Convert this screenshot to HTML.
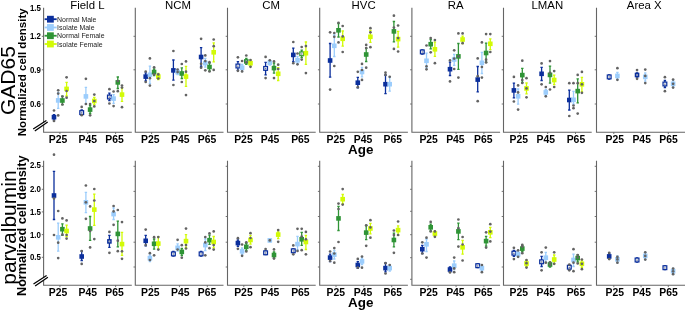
<!DOCTYPE html>
<html><head><meta charset="utf-8"><style>
html,body{margin:0;padding:0;background:#fff;}
body{width:685px;height:311px;overflow:hidden;}
svg{display:block;font-family:"Liberation Sans", sans-serif;will-change:transform;filter:blur(0.25px);}
</style></head><body>
<svg width="685" height="311" viewBox="0 0 685 311">
<rect width="685" height="311" fill="#fff"/>
<path d="M43.6 7.8V132.2H131.8" fill="none" stroke="#656565" stroke-width="1.1"/>
<path d="M41.8 36.3H43.6" stroke="#656565" stroke-width="0.9"/>
<path d="M41.8 69.8H43.6" stroke="#656565" stroke-width="0.9"/>
<path d="M41.8 104H43.6" stroke="#656565" stroke-width="0.9"/>
<path d="M59.9 132.2v1.8" stroke="#656565" stroke-width="0.9"/>
<path d="M87.75 132.2v1.8" stroke="#656565" stroke-width="0.9"/>
<path d="M115.6 132.2v1.8" stroke="#656565" stroke-width="0.9"/>
<path d="M135.3 7.8V132.2H223.5" fill="none" stroke="#656565" stroke-width="1.1"/>
<path d="M133.5 36.3H135.3" stroke="#656565" stroke-width="0.9"/>
<path d="M133.5 69.8H135.3" stroke="#656565" stroke-width="0.9"/>
<path d="M133.5 104H135.3" stroke="#656565" stroke-width="0.9"/>
<path d="M151.6 132.2v1.8" stroke="#656565" stroke-width="0.9"/>
<path d="M179.45 132.2v1.8" stroke="#656565" stroke-width="0.9"/>
<path d="M207.3 132.2v1.8" stroke="#656565" stroke-width="0.9"/>
<path d="M227.5 7.8V132.2H315.7" fill="none" stroke="#656565" stroke-width="1.1"/>
<path d="M225.7 36.3H227.5" stroke="#656565" stroke-width="0.9"/>
<path d="M225.7 69.8H227.5" stroke="#656565" stroke-width="0.9"/>
<path d="M225.7 104H227.5" stroke="#656565" stroke-width="0.9"/>
<path d="M243.8 132.2v1.8" stroke="#656565" stroke-width="0.9"/>
<path d="M271.65 132.2v1.8" stroke="#656565" stroke-width="0.9"/>
<path d="M299.5 132.2v1.8" stroke="#656565" stroke-width="0.9"/>
<path d="M319.7 7.8V132.2H407.9" fill="none" stroke="#656565" stroke-width="1.1"/>
<path d="M317.9 36.3H319.7" stroke="#656565" stroke-width="0.9"/>
<path d="M317.9 69.8H319.7" stroke="#656565" stroke-width="0.9"/>
<path d="M317.9 104H319.7" stroke="#656565" stroke-width="0.9"/>
<path d="M336 132.2v1.8" stroke="#656565" stroke-width="0.9"/>
<path d="M363.85 132.2v1.8" stroke="#656565" stroke-width="0.9"/>
<path d="M391.7 132.2v1.8" stroke="#656565" stroke-width="0.9"/>
<path d="M411.9 7.8V132.2H500.1" fill="none" stroke="#656565" stroke-width="1.1"/>
<path d="M410.1 36.3H411.9" stroke="#656565" stroke-width="0.9"/>
<path d="M410.1 69.8H411.9" stroke="#656565" stroke-width="0.9"/>
<path d="M410.1 104H411.9" stroke="#656565" stroke-width="0.9"/>
<path d="M428.2 132.2v1.8" stroke="#656565" stroke-width="0.9"/>
<path d="M456.05 132.2v1.8" stroke="#656565" stroke-width="0.9"/>
<path d="M483.9 132.2v1.8" stroke="#656565" stroke-width="0.9"/>
<path d="M503.5 7.8V132.2H591.7" fill="none" stroke="#656565" stroke-width="1.1"/>
<path d="M501.7 36.3H503.5" stroke="#656565" stroke-width="0.9"/>
<path d="M501.7 69.8H503.5" stroke="#656565" stroke-width="0.9"/>
<path d="M501.7 104H503.5" stroke="#656565" stroke-width="0.9"/>
<path d="M519.8 132.2v1.8" stroke="#656565" stroke-width="0.9"/>
<path d="M547.65 132.2v1.8" stroke="#656565" stroke-width="0.9"/>
<path d="M575.5 132.2v1.8" stroke="#656565" stroke-width="0.9"/>
<path d="M596.5 7.8V132.2H685" fill="none" stroke="#656565" stroke-width="1.1"/>
<path d="M594.7 36.3H596.5" stroke="#656565" stroke-width="0.9"/>
<path d="M594.7 69.8H596.5" stroke="#656565" stroke-width="0.9"/>
<path d="M594.7 104H596.5" stroke="#656565" stroke-width="0.9"/>
<path d="M613.8 132.2v1.8" stroke="#656565" stroke-width="0.9"/>
<path d="M641.05 132.2v1.8" stroke="#656565" stroke-width="0.9"/>
<path d="M668.3 132.2v1.8" stroke="#656565" stroke-width="0.9"/>
<path d="M43.6 160.8V285.3H131.8" fill="none" stroke="#656565" stroke-width="1.1"/>
<path d="M41.8 166.4H43.6" stroke="#656565" stroke-width="0.9"/>
<path d="M41.8 189.3H43.6" stroke="#656565" stroke-width="0.9"/>
<path d="M41.8 211.9H43.6" stroke="#656565" stroke-width="0.9"/>
<path d="M41.8 234.6H43.6" stroke="#656565" stroke-width="0.9"/>
<path d="M41.8 257.3H43.6" stroke="#656565" stroke-width="0.9"/>
<path d="M59.9 285.3v1.8" stroke="#656565" stroke-width="0.9"/>
<path d="M87.75 285.3v1.8" stroke="#656565" stroke-width="0.9"/>
<path d="M115.6 285.3v1.8" stroke="#656565" stroke-width="0.9"/>
<path d="M135.3 160.8V285.3H223.5" fill="none" stroke="#656565" stroke-width="1.1"/>
<path d="M133.5 166.3H135.3" stroke="#656565" stroke-width="0.9"/>
<path d="M133.5 191.4H135.3" stroke="#656565" stroke-width="0.9"/>
<path d="M133.5 216.5H135.3" stroke="#656565" stroke-width="0.9"/>
<path d="M133.5 242.2H135.3" stroke="#656565" stroke-width="0.9"/>
<path d="M133.5 267H135.3" stroke="#656565" stroke-width="0.9"/>
<path d="M151.6 285.3v1.8" stroke="#656565" stroke-width="0.9"/>
<path d="M179.45 285.3v1.8" stroke="#656565" stroke-width="0.9"/>
<path d="M207.3 285.3v1.8" stroke="#656565" stroke-width="0.9"/>
<path d="M227.5 160.8V285.3H315.7" fill="none" stroke="#656565" stroke-width="1.1"/>
<path d="M225.7 166.3H227.5" stroke="#656565" stroke-width="0.9"/>
<path d="M225.7 191.4H227.5" stroke="#656565" stroke-width="0.9"/>
<path d="M225.7 216.5H227.5" stroke="#656565" stroke-width="0.9"/>
<path d="M225.7 242.2H227.5" stroke="#656565" stroke-width="0.9"/>
<path d="M225.7 267H227.5" stroke="#656565" stroke-width="0.9"/>
<path d="M243.8 285.3v1.8" stroke="#656565" stroke-width="0.9"/>
<path d="M271.65 285.3v1.8" stroke="#656565" stroke-width="0.9"/>
<path d="M299.5 285.3v1.8" stroke="#656565" stroke-width="0.9"/>
<path d="M319.7 160.8V285.3H407.9" fill="none" stroke="#656565" stroke-width="1.1"/>
<path d="M317.9 166.3H319.7" stroke="#656565" stroke-width="0.9"/>
<path d="M317.9 191.4H319.7" stroke="#656565" stroke-width="0.9"/>
<path d="M317.9 216.5H319.7" stroke="#656565" stroke-width="0.9"/>
<path d="M317.9 242.2H319.7" stroke="#656565" stroke-width="0.9"/>
<path d="M317.9 267H319.7" stroke="#656565" stroke-width="0.9"/>
<path d="M336 285.3v1.8" stroke="#656565" stroke-width="0.9"/>
<path d="M363.85 285.3v1.8" stroke="#656565" stroke-width="0.9"/>
<path d="M391.7 285.3v1.8" stroke="#656565" stroke-width="0.9"/>
<path d="M411.9 160.8V285.3H500.1" fill="none" stroke="#656565" stroke-width="1.1"/>
<path d="M410.1 166.3H411.9" stroke="#656565" stroke-width="0.9"/>
<path d="M410.1 189.3H411.9" stroke="#656565" stroke-width="0.9"/>
<path d="M410.1 211.3H411.9" stroke="#656565" stroke-width="0.9"/>
<path d="M410.1 234.7H411.9" stroke="#656565" stroke-width="0.9"/>
<path d="M410.1 257.7H411.9" stroke="#656565" stroke-width="0.9"/>
<path d="M410.1 279.3H411.9" stroke="#656565" stroke-width="0.9"/>
<path d="M428.2 285.3v1.8" stroke="#656565" stroke-width="0.9"/>
<path d="M456.05 285.3v1.8" stroke="#656565" stroke-width="0.9"/>
<path d="M483.9 285.3v1.8" stroke="#656565" stroke-width="0.9"/>
<path d="M503.5 160.8V285.3H591.7" fill="none" stroke="#656565" stroke-width="1.1"/>
<path d="M501.7 166.3H503.5" stroke="#656565" stroke-width="0.9"/>
<path d="M501.7 191.4H503.5" stroke="#656565" stroke-width="0.9"/>
<path d="M501.7 216.5H503.5" stroke="#656565" stroke-width="0.9"/>
<path d="M501.7 242.2H503.5" stroke="#656565" stroke-width="0.9"/>
<path d="M501.7 267H503.5" stroke="#656565" stroke-width="0.9"/>
<path d="M519.8 285.3v1.8" stroke="#656565" stroke-width="0.9"/>
<path d="M547.65 285.3v1.8" stroke="#656565" stroke-width="0.9"/>
<path d="M575.5 285.3v1.8" stroke="#656565" stroke-width="0.9"/>
<path d="M596.5 160.8V285.3H685" fill="none" stroke="#656565" stroke-width="1.1"/>
<path d="M594.7 166.3H596.5" stroke="#656565" stroke-width="0.9"/>
<path d="M594.7 191.4H596.5" stroke="#656565" stroke-width="0.9"/>
<path d="M594.7 216.5H596.5" stroke="#656565" stroke-width="0.9"/>
<path d="M594.7 242.2H596.5" stroke="#656565" stroke-width="0.9"/>
<path d="M594.7 267H596.5" stroke="#656565" stroke-width="0.9"/>
<path d="M613.8 285.3v1.8" stroke="#656565" stroke-width="0.9"/>
<path d="M641.05 285.3v1.8" stroke="#656565" stroke-width="0.9"/>
<path d="M668.3 285.3v1.8" stroke="#656565" stroke-width="0.9"/>
<path d="M34 130.1L47.2 121.5" stroke="#fff" stroke-width="2.4"/>
<path d="M33.2 129.1L46.4 120.5" stroke="#000" stroke-width="1.25"/>
<path d="M34.8 131L47.7 122.1" stroke="#000" stroke-width="1.25"/>
<path d="M34.3 285.1L47.4 276.6" stroke="#fff" stroke-width="2.4"/>
<path d="M33.5 284.1L46.6 275.6" stroke="#000" stroke-width="1.25"/>
<path d="M35.1 286L47.9 277.2" stroke="#000" stroke-width="1.25"/>
<path d="M54 114.6V120.2M52.8 114.6h2.4M52.8 120.2h2.4" stroke="#0b2f9c" stroke-width="1.3" fill="none"/>
<rect x="51.7" y="114.9" width="4.6" height="4.6" fill="#0b2f9c"/>
<path d="M58.2 92.6V108.3M57 92.6h2.4M57 108.3h2.4" stroke="#9ccdfc" stroke-width="1.3" fill="none"/>
<rect x="55.9" y="98.1" width="4.6" height="4.6" fill="#9ccdfc"/>
<path d="M62.4 96.2V104.6M61.2 96.2h2.4M61.2 104.6h2.4" stroke="#2f9436" stroke-width="1.3" fill="none"/>
<rect x="60.1" y="98.2" width="4.6" height="4.6" fill="#2f9436"/>
<path d="M66.6 82.4V96M65.4 82.4h2.4M65.4 96h2.4" stroke="#d2fb06" stroke-width="1.3" fill="none"/>
<rect x="64.3" y="86.6" width="4.6" height="4.6" fill="#d2fb06"/>
<circle cx="54" cy="110.5" r="1.35" fill="#636363"/>
<circle cx="54" cy="121" r="1.35" fill="#636363"/>
<circle cx="58.2" cy="90.3" r="1.35" fill="#636363"/>
<circle cx="58.2" cy="93.6" r="1.35" fill="#636363"/>
<circle cx="58.2" cy="115.4" r="1.35" fill="#636363"/>
<circle cx="62.4" cy="96.5" r="1.35" fill="#636363"/>
<circle cx="62.4" cy="104.5" r="1.35" fill="#636363"/>
<circle cx="66.6" cy="77.3" r="1.35" fill="#636363"/>
<circle cx="66.6" cy="91" r="1.35" fill="#636363"/>
<circle cx="66.6" cy="97.7" r="1.35" fill="#636363"/>
<path d="M81.7 110V115M80.5 110h2.4M80.5 115h2.4" stroke="#0b2f9c" stroke-width="1.3" fill="none"/>
<rect x="79.2" y="110.1" width="5" height="5" fill="#0b2f9c"/>
<rect x="80.4" y="111.3" width="2.6" height="2.6" fill="#e6ebf7"/>
<circle cx="81.7" cy="112.8" r="0.75" fill="#7d8296"/>
<path d="M85.9 87.4V104M84.7 87.4h2.4M84.7 104h2.4" stroke="#9ccdfc" stroke-width="1.3" fill="none"/>
<rect x="83.6" y="94.1" width="4.6" height="4.6" fill="#9ccdfc"/>
<path d="M90.1 105.5V113.5M88.9 105.5h2.4M88.9 113.5h2.4" stroke="#2f9436" stroke-width="1.3" fill="none"/>
<rect x="87.8" y="107.3" width="4.6" height="4.6" fill="#2f9436"/>
<path d="M94.3 97.3V104.7M93.1 97.3h2.4M93.1 104.7h2.4" stroke="#d2fb06" stroke-width="1.3" fill="none"/>
<rect x="92" y="98.7" width="4.6" height="4.6" fill="#d2fb06"/>
<circle cx="81.7" cy="106.9" r="1.35" fill="#636363"/>
<circle cx="81.7" cy="115.2" r="1.35" fill="#636363"/>
<circle cx="85.9" cy="78.8" r="1.35" fill="#636363"/>
<circle cx="85.9" cy="104" r="1.35" fill="#636363"/>
<circle cx="90.1" cy="104" r="1.35" fill="#636363"/>
<circle cx="90.1" cy="115.3" r="1.35" fill="#636363"/>
<circle cx="94.3" cy="94.6" r="1.35" fill="#636363"/>
<circle cx="94.3" cy="106.4" r="1.35" fill="#636363"/>
<circle cx="94.3" cy="101" r="1.35" fill="#636363"/>
<path d="M109.4 93.2V100.7M108.2 93.2h2.4M108.2 100.7h2.4" stroke="#0b2f9c" stroke-width="1.3" fill="none"/>
<rect x="106.9" y="94.5" width="5" height="5" fill="#0b2f9c"/>
<rect x="108.1" y="95.7" width="2.6" height="2.6" fill="#e6ebf7"/>
<circle cx="109.4" cy="97.2" r="0.75" fill="#7d8296"/>
<path d="M113.6 94.6V103.4M112.4 94.6h2.4M112.4 103.4h2.4" stroke="#9ccdfc" stroke-width="1.3" fill="none"/>
<rect x="111.3" y="96.3" width="4.6" height="4.6" fill="#9ccdfc"/>
<path d="M117.8 77V88.5M116.6 77h2.4M116.6 88.5h2.4" stroke="#2f9436" stroke-width="1.3" fill="none"/>
<rect x="115.5" y="80.1" width="4.6" height="4.6" fill="#2f9436"/>
<path d="M122 87.8V101.4M120.8 87.8h2.4M120.8 101.4h2.4" stroke="#d2fb06" stroke-width="1.3" fill="none"/>
<rect x="119.7" y="92.3" width="4.6" height="4.6" fill="#d2fb06"/>
<circle cx="109.4" cy="89.2" r="1.35" fill="#636363"/>
<circle cx="109.4" cy="103.5" r="1.35" fill="#636363"/>
<circle cx="113.6" cy="91.5" r="1.35" fill="#636363"/>
<circle cx="113.6" cy="106.1" r="1.35" fill="#636363"/>
<circle cx="117.8" cy="81" r="1.35" fill="#636363"/>
<circle cx="117.8" cy="91.2" r="1.35" fill="#636363"/>
<circle cx="122" cy="85.5" r="1.35" fill="#636363"/>
<circle cx="122" cy="107.2" r="1.35" fill="#636363"/>
<circle cx="122" cy="87.6" r="1.35" fill="#636363"/>
<path d="M145.7 72.8V80.9M144.5 72.8h2.4M144.5 80.9h2.4" stroke="#0b2f9c" stroke-width="1.3" fill="none"/>
<rect x="143.4" y="74.3" width="4.6" height="4.6" fill="#0b2f9c"/>
<path d="M149.9 66.2V83.6M148.7 66.2h2.4M148.7 83.6h2.4" stroke="#9ccdfc" stroke-width="1.3" fill="none"/>
<rect x="147.6" y="72.5" width="4.6" height="4.6" fill="#9ccdfc"/>
<path d="M154.1 69V75.5M152.9 69h2.4M152.9 75.5h2.4" stroke="#2f9436" stroke-width="1.3" fill="none"/>
<rect x="151.8" y="69.8" width="4.6" height="4.6" fill="#2f9436"/>
<path d="M158.3 73.5V79.5M157.1 73.5h2.4M157.1 79.5h2.4" stroke="#d2fb06" stroke-width="1.3" fill="none"/>
<rect x="156" y="74.3" width="4.6" height="4.6" fill="#d2fb06"/>
<circle cx="145.7" cy="71.5" r="1.35" fill="#636363"/>
<circle cx="145.7" cy="82" r="1.35" fill="#636363"/>
<circle cx="149.9" cy="58.4" r="1.35" fill="#636363"/>
<circle cx="149.9" cy="78.2" r="1.35" fill="#636363"/>
<circle cx="149.9" cy="85.6" r="1.35" fill="#636363"/>
<circle cx="154.1" cy="67.3" r="1.35" fill="#636363"/>
<circle cx="154.1" cy="74.4" r="1.35" fill="#636363"/>
<circle cx="158.3" cy="74.4" r="1.35" fill="#636363"/>
<circle cx="158.3" cy="78.5" r="1.35" fill="#636363"/>
<path d="M173.4 60V80.2M172.2 60h2.4M172.2 80.2h2.4" stroke="#0b2f9c" stroke-width="1.3" fill="none"/>
<rect x="171.1" y="68.1" width="4.6" height="4.6" fill="#0b2f9c"/>
<path d="M177.6 69.5V74.5M176.4 69.5h2.4M176.4 74.5h2.4" stroke="#9ccdfc" stroke-width="1.3" fill="none"/>
<rect x="175.3" y="69.8" width="4.6" height="4.6" fill="#9ccdfc"/>
<path d="M181.8 67.8V78.5M180.6 67.8h2.4M180.6 78.5h2.4" stroke="#2f9436" stroke-width="1.3" fill="none"/>
<rect x="179.5" y="71.2" width="4.6" height="4.6" fill="#2f9436"/>
<path d="M186 66.4V86.3M184.8 66.4h2.4M184.8 86.3h2.4" stroke="#d2fb06" stroke-width="1.3" fill="none"/>
<rect x="183.7" y="74.3" width="4.6" height="4.6" fill="#d2fb06"/>
<circle cx="173.4" cy="51" r="1.35" fill="#636363"/>
<circle cx="173.4" cy="85" r="1.35" fill="#636363"/>
<circle cx="177.6" cy="69.5" r="1.35" fill="#636363"/>
<circle cx="177.6" cy="72.1" r="1.35" fill="#636363"/>
<circle cx="181.8" cy="64" r="1.35" fill="#636363"/>
<circle cx="181.8" cy="82" r="1.35" fill="#636363"/>
<circle cx="186" cy="61.4" r="1.35" fill="#636363"/>
<circle cx="186" cy="71.7" r="1.35" fill="#636363"/>
<circle cx="186" cy="95.1" r="1.35" fill="#636363"/>
<path d="M201.1 47.6V66.5M199.9 47.6h2.4M199.9 66.5h2.4" stroke="#0b2f9c" stroke-width="1.3" fill="none"/>
<rect x="198.8" y="54.7" width="4.6" height="4.6" fill="#0b2f9c"/>
<path d="M205.3 58.4V67.2M204.1 58.4h2.4M204.1 67.2h2.4" stroke="#9ccdfc" stroke-width="1.3" fill="none"/>
<rect x="203" y="60.8" width="4.6" height="4.6" fill="#9ccdfc"/>
<path d="M209.5 63V71M208.3 63h2.4M208.3 71h2.4" stroke="#2f9436" stroke-width="1.3" fill="none"/>
<rect x="207.2" y="64.7" width="4.6" height="4.6" fill="#2f9436"/>
<path d="M213.7 42.8V61.8M212.5 42.8h2.4M212.5 61.8h2.4" stroke="#d2fb06" stroke-width="1.3" fill="none"/>
<rect x="211.4" y="50" width="4.6" height="4.6" fill="#d2fb06"/>
<circle cx="201.1" cy="38.8" r="1.35" fill="#636363"/>
<circle cx="201.1" cy="63.8" r="1.35" fill="#636363"/>
<circle cx="201.1" cy="67.7" r="1.35" fill="#636363"/>
<circle cx="205.3" cy="55.4" r="1.35" fill="#636363"/>
<circle cx="205.3" cy="61.1" r="1.35" fill="#636363"/>
<circle cx="205.3" cy="70.3" r="1.35" fill="#636363"/>
<circle cx="209.5" cy="62.2" r="1.35" fill="#636363"/>
<circle cx="209.5" cy="71.5" r="1.35" fill="#636363"/>
<circle cx="213.7" cy="39.5" r="1.35" fill="#636363"/>
<circle cx="213.7" cy="46.2" r="1.35" fill="#636363"/>
<circle cx="213.7" cy="69.9" r="1.35" fill="#636363"/>
<path d="M237.9 61.6V70.4M236.7 61.6h2.4M236.7 70.4h2.4" stroke="#0b2f9c" stroke-width="1.3" fill="none"/>
<rect x="235.4" y="63.5" width="5" height="5" fill="#0b2f9c"/>
<rect x="236.6" y="64.7" width="2.6" height="2.6" fill="#e6ebf7"/>
<circle cx="237.9" cy="66.2" r="0.75" fill="#7d8296"/>
<path d="M242.1 64.5V70.9M240.9 64.5h2.4M240.9 70.9h2.4" stroke="#9ccdfc" stroke-width="1.3" fill="none"/>
<rect x="239.8" y="65.4" width="4.6" height="4.6" fill="#9ccdfc"/>
<path d="M246.3 58.5V64.3M245.1 58.5h2.4M245.1 64.3h2.4" stroke="#2f9436" stroke-width="1.3" fill="none"/>
<rect x="244" y="59.1" width="4.6" height="4.6" fill="#2f9436"/>
<circle cx="246.3" cy="61.4" r="1.05" fill="#a3aac0"/>
<path d="M250.5 60.2V66.2M249.3 60.2h2.4M249.3 66.2h2.4" stroke="#d2fb06" stroke-width="1.3" fill="none"/>
<rect x="248.2" y="60.9" width="4.6" height="4.6" fill="#d2fb06"/>
<circle cx="237.9" cy="57.3" r="1.35" fill="#636363"/>
<circle cx="237.9" cy="70.8" r="1.35" fill="#636363"/>
<circle cx="242.1" cy="61" r="1.35" fill="#636363"/>
<circle cx="242.1" cy="71.4" r="1.35" fill="#636363"/>
<circle cx="246.3" cy="55.5" r="1.35" fill="#636363"/>
<circle cx="246.3" cy="62.3" r="1.35" fill="#636363"/>
<circle cx="250.5" cy="60" r="1.35" fill="#636363"/>
<circle cx="250.5" cy="66.8" r="1.35" fill="#636363"/>
<path d="M265.6 62.3V74.9M264.4 62.3h2.4M264.4 74.9h2.4" stroke="#0b2f9c" stroke-width="1.3" fill="none"/>
<rect x="263.1" y="65.9" width="5" height="5" fill="#0b2f9c"/>
<rect x="264.3" y="67.1" width="2.6" height="2.6" fill="#e6ebf7"/>
<circle cx="265.6" cy="68.6" r="0.75" fill="#7d8296"/>
<path d="M269.8 60.5V65M268.6 60.5h2.4M268.6 65h2.4" stroke="#9ccdfc" stroke-width="1.3" fill="none"/>
<rect x="267.5" y="60.4" width="4.6" height="4.6" fill="#9ccdfc"/>
<path d="M274 63V73.1M272.8 63h2.4M272.8 73.1h2.4" stroke="#2f9436" stroke-width="1.3" fill="none"/>
<rect x="271.7" y="65.8" width="4.6" height="4.6" fill="#2f9436"/>
<path d="M278.2 67.7V80.5M277 67.7h2.4M277 80.5h2.4" stroke="#d2fb06" stroke-width="1.3" fill="none"/>
<rect x="275.9" y="71.5" width="4.6" height="4.6" fill="#d2fb06"/>
<circle cx="265.6" cy="56.9" r="1.35" fill="#636363"/>
<circle cx="265.6" cy="78.1" r="1.35" fill="#636363"/>
<circle cx="269.8" cy="60.3" r="1.35" fill="#636363"/>
<circle cx="274" cy="61.4" r="1.35" fill="#636363"/>
<circle cx="274" cy="78.1" r="1.35" fill="#636363"/>
<circle cx="278.2" cy="64.7" r="1.35" fill="#636363"/>
<circle cx="278.2" cy="69" r="1.35" fill="#636363"/>
<path d="M293.3 48.1V61.6M292.1 48.1h2.4M292.1 61.6h2.4" stroke="#0b2f9c" stroke-width="1.3" fill="none"/>
<rect x="291" y="52.6" width="4.6" height="4.6" fill="#0b2f9c"/>
<path d="M297.5 56.5V64M296.3 56.5h2.4M296.3 64h2.4" stroke="#9ccdfc" stroke-width="1.3" fill="none"/>
<rect x="295.2" y="58" width="4.6" height="4.6" fill="#9ccdfc"/>
<path d="M301.7 50.1V57.6M300.5 50.1h2.4M300.5 57.6h2.4" stroke="#2f9436" stroke-width="1.3" fill="none"/>
<rect x="299.2" y="51.3" width="5" height="5" fill="#2f9436"/>
<rect x="300.4" y="52.5" width="2.6" height="2.6" fill="#e6ebf7"/>
<circle cx="301.7" cy="54" r="0.75" fill="#7d8296"/>
<path d="M305.9 42V64.3M304.7 42h2.4M304.7 64.3h2.4" stroke="#d2fb06" stroke-width="1.3" fill="none"/>
<rect x="303.6" y="50.9" width="4.6" height="4.6" fill="#d2fb06"/>
<circle cx="293.3" cy="42" r="1.35" fill="#636363"/>
<circle cx="293.3" cy="63.2" r="1.35" fill="#636363"/>
<circle cx="297.5" cy="53.5" r="1.35" fill="#636363"/>
<circle cx="297.5" cy="64.3" r="1.35" fill="#636363"/>
<circle cx="301.7" cy="47" r="1.35" fill="#636363"/>
<circle cx="301.7" cy="59.6" r="1.35" fill="#636363"/>
<circle cx="305.9" cy="46.1" r="1.35" fill="#636363"/>
<circle cx="305.9" cy="73.1" r="1.35" fill="#636363"/>
<path d="M330.1 43.5V77.2M328.9 43.5h2.4M328.9 77.2h2.4" stroke="#0b2f9c" stroke-width="1.3" fill="none"/>
<rect x="327.8" y="58.2" width="4.6" height="4.6" fill="#0b2f9c"/>
<path d="M334.3 35V56.5M333.1 35h2.4M333.1 56.5h2.4" stroke="#9ccdfc" stroke-width="1.3" fill="none"/>
<rect x="332" y="43.5" width="4.6" height="4.6" fill="#9ccdfc"/>
<path d="M338.5 23.5V37M337.3 23.5h2.4M337.3 37h2.4" stroke="#2f9436" stroke-width="1.3" fill="none"/>
<rect x="336.2" y="28" width="4.6" height="4.6" fill="#2f9436"/>
<path d="M342.7 31V46.2M341.5 31h2.4M341.5 46.2h2.4" stroke="#d2fb06" stroke-width="1.3" fill="none"/>
<rect x="340.4" y="36.5" width="4.6" height="4.6" fill="#d2fb06"/>
<circle cx="330.1" cy="32.3" r="1.35" fill="#636363"/>
<circle cx="330.1" cy="89.6" r="1.35" fill="#636363"/>
<circle cx="334.3" cy="33" r="1.35" fill="#636363"/>
<circle cx="334.3" cy="36.8" r="1.35" fill="#636363"/>
<circle cx="334.3" cy="66" r="1.35" fill="#636363"/>
<circle cx="338.5" cy="22.8" r="1.35" fill="#636363"/>
<circle cx="338.5" cy="42.4" r="1.35" fill="#636363"/>
<circle cx="342.7" cy="26" r="1.35" fill="#636363"/>
<circle cx="342.7" cy="36.4" r="1.35" fill="#636363"/>
<circle cx="342.7" cy="52" r="1.35" fill="#636363"/>
<path d="M357.8 77.4V87.8M356.6 77.4h2.4M356.6 87.8h2.4" stroke="#0b2f9c" stroke-width="1.3" fill="none"/>
<rect x="355.5" y="80.4" width="4.6" height="4.6" fill="#0b2f9c"/>
<path d="M362 67.3V76.8M360.8 67.3h2.4M360.8 76.8h2.4" stroke="#9ccdfc" stroke-width="1.3" fill="none"/>
<rect x="359.7" y="69.7" width="4.6" height="4.6" fill="#9ccdfc"/>
<path d="M366.2 48.4V61.5M365 48.4h2.4M365 61.5h2.4" stroke="#2f9436" stroke-width="1.3" fill="none"/>
<rect x="363.9" y="52.2" width="4.6" height="4.6" fill="#2f9436"/>
<path d="M370.4 30.3V42.4M369.2 30.3h2.4M369.2 42.4h2.4" stroke="#d2fb06" stroke-width="1.3" fill="none"/>
<rect x="368.1" y="34.5" width="4.6" height="4.6" fill="#d2fb06"/>
<circle cx="357.8" cy="71.8" r="1.35" fill="#636363"/>
<circle cx="357.8" cy="87.2" r="1.35" fill="#636363"/>
<circle cx="362" cy="63.9" r="1.35" fill="#636363"/>
<circle cx="362" cy="70" r="1.35" fill="#636363"/>
<circle cx="362" cy="79.9" r="1.35" fill="#636363"/>
<circle cx="366.2" cy="44.9" r="1.35" fill="#636363"/>
<circle cx="366.2" cy="48.1" r="1.35" fill="#636363"/>
<circle cx="366.2" cy="67.7" r="1.35" fill="#636363"/>
<circle cx="370.4" cy="28.2" r="1.35" fill="#636363"/>
<circle cx="370.4" cy="32.3" r="1.35" fill="#636363"/>
<circle cx="370.4" cy="47.2" r="1.35" fill="#636363"/>
<path d="M385.5 75V93.6M384.3 75h2.4M384.3 93.6h2.4" stroke="#0b2f9c" stroke-width="1.3" fill="none"/>
<rect x="383.2" y="81.9" width="4.6" height="4.6" fill="#0b2f9c"/>
<path d="M389.7 77V91.2M388.5 77h2.4M388.5 91.2h2.4" stroke="#9ccdfc" stroke-width="1.3" fill="none"/>
<rect x="387.4" y="81.9" width="4.6" height="4.6" fill="#9ccdfc"/>
<path d="M393.9 21.5V41.8M392.7 21.5h2.4M392.7 41.8h2.4" stroke="#2f9436" stroke-width="1.3" fill="none"/>
<rect x="391.6" y="29.1" width="4.6" height="4.6" fill="#2f9436"/>
<path d="M398.1 31.4V47.2M396.9 31.4h2.4M396.9 47.2h2.4" stroke="#d2fb06" stroke-width="1.3" fill="none"/>
<rect x="395.8" y="36.8" width="4.6" height="4.6" fill="#d2fb06"/>
<circle cx="385.5" cy="72.7" r="1.35" fill="#636363"/>
<circle cx="385.5" cy="75" r="1.35" fill="#636363"/>
<circle cx="389.7" cy="76.8" r="1.35" fill="#636363"/>
<circle cx="393.9" cy="15.7" r="1.35" fill="#636363"/>
<circle cx="393.9" cy="27.6" r="1.35" fill="#636363"/>
<circle cx="393.9" cy="48.9" r="1.35" fill="#636363"/>
<circle cx="398.1" cy="25.5" r="1.35" fill="#636363"/>
<circle cx="398.1" cy="38.1" r="1.35" fill="#636363"/>
<circle cx="398.1" cy="51.5" r="1.35" fill="#636363"/>
<path d="M422.3 50V54M421.1 50h2.4M421.1 54h2.4" stroke="#0b2f9c" stroke-width="1.3" fill="none"/>
<rect x="419.8" y="49.4" width="5" height="5" fill="#0b2f9c"/>
<rect x="421" y="50.6" width="2.6" height="2.6" fill="#e6ebf7"/>
<circle cx="422.3" cy="52.1" r="0.75" fill="#7d8296"/>
<path d="M426.5 53.2V67.8M425.3 53.2h2.4M425.3 67.8h2.4" stroke="#9ccdfc" stroke-width="1.3" fill="none"/>
<rect x="424.2" y="58.5" width="4.6" height="4.6" fill="#9ccdfc"/>
<path d="M430.7 39.5V48.9M429.5 39.5h2.4M429.5 48.9h2.4" stroke="#2f9436" stroke-width="1.3" fill="none"/>
<rect x="428.4" y="41.9" width="4.6" height="4.6" fill="#2f9436"/>
<path d="M434.9 42.2V56.4M433.7 42.2h2.4M433.7 56.4h2.4" stroke="#d2fb06" stroke-width="1.3" fill="none"/>
<rect x="432.6" y="47" width="4.6" height="4.6" fill="#d2fb06"/>
<circle cx="426.5" cy="45.5" r="1.35" fill="#636363"/>
<circle cx="426.5" cy="66.3" r="1.35" fill="#636363"/>
<circle cx="426.5" cy="69.3" r="1.35" fill="#636363"/>
<circle cx="430.7" cy="38.1" r="1.35" fill="#636363"/>
<circle cx="430.7" cy="52.3" r="1.35" fill="#636363"/>
<circle cx="434.9" cy="40.1" r="1.35" fill="#636363"/>
<circle cx="434.9" cy="63.2" r="1.35" fill="#636363"/>
<path d="M450 62.2V75.5M448.8 62.2h2.4M448.8 75.5h2.4" stroke="#0b2f9c" stroke-width="1.3" fill="none"/>
<rect x="447.7" y="66.9" width="4.6" height="4.6" fill="#0b2f9c"/>
<path d="M454.2 54.3V65.4M453 54.3h2.4M453 65.4h2.4" stroke="#9ccdfc" stroke-width="1.3" fill="none"/>
<rect x="451.9" y="57.2" width="4.6" height="4.6" fill="#9ccdfc"/>
<path d="M458.4 43.5V69.4M457.2 43.5h2.4M457.2 69.4h2.4" stroke="#2f9436" stroke-width="1.3" fill="none"/>
<rect x="456.1" y="54.1" width="4.6" height="4.6" fill="#2f9436"/>
<path d="M462.6 36.1V43.5M461.4 36.1h2.4M461.4 43.5h2.4" stroke="#d2fb06" stroke-width="1.3" fill="none"/>
<rect x="460.3" y="37.2" width="4.6" height="4.6" fill="#d2fb06"/>
<circle cx="450" cy="60.4" r="1.35" fill="#636363"/>
<circle cx="450" cy="81.4" r="1.35" fill="#636363"/>
<circle cx="454.2" cy="50.3" r="1.35" fill="#636363"/>
<circle cx="454.2" cy="58.6" r="1.35" fill="#636363"/>
<circle cx="454.2" cy="69" r="1.35" fill="#636363"/>
<circle cx="458.4" cy="33.4" r="1.35" fill="#636363"/>
<circle cx="458.4" cy="56.4" r="1.35" fill="#636363"/>
<circle cx="458.4" cy="77.6" r="1.35" fill="#636363"/>
<circle cx="462.6" cy="33.4" r="1.35" fill="#636363"/>
<circle cx="462.6" cy="43.2" r="1.35" fill="#636363"/>
<path d="M477.7 66.5V91.8M476.5 66.5h2.4M476.5 91.8h2.4" stroke="#0b2f9c" stroke-width="1.3" fill="none"/>
<rect x="475.4" y="77.3" width="4.6" height="4.6" fill="#0b2f9c"/>
<path d="M481.9 52.3V73.5M480.7 52.3h2.4M480.7 73.5h2.4" stroke="#9ccdfc" stroke-width="1.3" fill="none"/>
<rect x="479.6" y="60.5" width="4.6" height="4.6" fill="#9ccdfc"/>
<path d="M486.1 43.2V62.4M484.9 43.2h2.4M484.9 62.4h2.4" stroke="#2f9436" stroke-width="1.3" fill="none"/>
<rect x="483.8" y="50.7" width="4.6" height="4.6" fill="#2f9436"/>
<path d="M490.3 38.8V49.6M489.1 38.8h2.4M489.1 49.6h2.4" stroke="#d2fb06" stroke-width="1.3" fill="none"/>
<rect x="488" y="41.5" width="4.6" height="4.6" fill="#d2fb06"/>
<circle cx="477.7" cy="58.4" r="1.35" fill="#636363"/>
<circle cx="477.7" cy="76.2" r="1.35" fill="#636363"/>
<circle cx="477.7" cy="101.2" r="1.35" fill="#636363"/>
<circle cx="481.9" cy="42.4" r="1.35" fill="#636363"/>
<circle cx="481.9" cy="67" r="1.35" fill="#636363"/>
<circle cx="481.9" cy="77.6" r="1.35" fill="#636363"/>
<circle cx="486.1" cy="34.1" r="1.35" fill="#636363"/>
<circle cx="486.1" cy="59.7" r="1.35" fill="#636363"/>
<circle cx="486.1" cy="62.4" r="1.35" fill="#636363"/>
<circle cx="490.3" cy="34.1" r="1.35" fill="#636363"/>
<circle cx="490.3" cy="52" r="1.35" fill="#636363"/>
<path d="M513.9 83.2V97.8M512.7 83.2h2.4M512.7 97.8h2.4" stroke="#0b2f9c" stroke-width="1.3" fill="none"/>
<rect x="511.6" y="88.1" width="4.6" height="4.6" fill="#0b2f9c"/>
<path d="M518.1 89V104.2M516.9 89h2.4M516.9 104.2h2.4" stroke="#9ccdfc" stroke-width="1.3" fill="none"/>
<rect x="515.8" y="94" width="4.6" height="4.6" fill="#9ccdfc"/>
<path d="M522.3 68.4V82.3M521.1 68.4h2.4M521.1 82.3h2.4" stroke="#2f9436" stroke-width="1.3" fill="none"/>
<rect x="520" y="72.8" width="4.6" height="4.6" fill="#2f9436"/>
<path d="M526.5 83V93.8M525.3 83h2.4M525.3 93.8h2.4" stroke="#d2fb06" stroke-width="1.3" fill="none"/>
<rect x="524.2" y="86.1" width="4.6" height="4.6" fill="#d2fb06"/>
<circle cx="513.9" cy="76.9" r="1.35" fill="#636363"/>
<circle cx="513.9" cy="101.5" r="1.35" fill="#636363"/>
<circle cx="518.1" cy="85.4" r="1.35" fill="#636363"/>
<circle cx="518.1" cy="92.4" r="1.35" fill="#636363"/>
<circle cx="518.1" cy="109.6" r="1.35" fill="#636363"/>
<circle cx="522.3" cy="60.7" r="1.35" fill="#636363"/>
<circle cx="522.3" cy="80" r="1.35" fill="#636363"/>
<circle cx="522.3" cy="83" r="1.35" fill="#636363"/>
<circle cx="526.5" cy="78.2" r="1.35" fill="#636363"/>
<circle cx="526.5" cy="88.4" r="1.35" fill="#636363"/>
<circle cx="526.5" cy="97.3" r="1.35" fill="#636363"/>
<path d="M541.6 67.4V80.5M540.4 67.4h2.4M540.4 80.5h2.4" stroke="#0b2f9c" stroke-width="1.3" fill="none"/>
<rect x="539.3" y="71.5" width="4.6" height="4.6" fill="#0b2f9c"/>
<path d="M545.8 89.5V95.5M544.6 89.5h2.4M544.6 95.5h2.4" stroke="#9ccdfc" stroke-width="1.3" fill="none"/>
<rect x="543.5" y="90.1" width="4.6" height="4.6" fill="#9ccdfc"/>
<path d="M550 66.1V83.2M548.8 66.1h2.4M548.8 83.2h2.4" stroke="#2f9436" stroke-width="1.3" fill="none"/>
<rect x="547.7" y="72.6" width="4.6" height="4.6" fill="#2f9436"/>
<path d="M554.2 75.1V84.6M553 75.1h2.4M553 84.6h2.4" stroke="#d2fb06" stroke-width="1.3" fill="none"/>
<rect x="551.9" y="77.7" width="4.6" height="4.6" fill="#d2fb06"/>
<circle cx="541.6" cy="63.4" r="1.35" fill="#636363"/>
<circle cx="541.6" cy="84.3" r="1.35" fill="#636363"/>
<circle cx="545.8" cy="87" r="1.35" fill="#636363"/>
<circle cx="545.8" cy="96.3" r="1.35" fill="#636363"/>
<circle cx="550" cy="61.1" r="1.35" fill="#636363"/>
<circle cx="550" cy="72.8" r="1.35" fill="#636363"/>
<circle cx="550" cy="89.5" r="1.35" fill="#636363"/>
<circle cx="554.2" cy="71.1" r="1.35" fill="#636363"/>
<circle cx="554.2" cy="87" r="1.35" fill="#636363"/>
<path d="M569.3 90.2V110M568.1 90.2h2.4M568.1 110h2.4" stroke="#0b2f9c" stroke-width="1.3" fill="none"/>
<rect x="567" y="97.7" width="4.6" height="4.6" fill="#0b2f9c"/>
<path d="M573.5 91.4V104.2M572.3 91.4h2.4M572.3 104.2h2.4" stroke="#9ccdfc" stroke-width="1.3" fill="none"/>
<rect x="571.2" y="97.5" width="4.6" height="4.6" fill="#9ccdfc"/>
<path d="M577.7 78.9V102.8M576.5 78.9h2.4M576.5 102.8h2.4" stroke="#2f9436" stroke-width="1.3" fill="none"/>
<rect x="575.4" y="88.8" width="4.6" height="4.6" fill="#2f9436"/>
<path d="M581.9 77.3V91.8M580.7 77.3h2.4M580.7 91.8h2.4" stroke="#d2fb06" stroke-width="1.3" fill="none"/>
<rect x="579.6" y="82" width="4.6" height="4.6" fill="#d2fb06"/>
<circle cx="569.3" cy="83.2" r="1.35" fill="#636363"/>
<circle cx="569.3" cy="116" r="1.35" fill="#636363"/>
<circle cx="573.5" cy="83.2" r="1.35" fill="#636363"/>
<circle cx="573.5" cy="105.5" r="1.35" fill="#636363"/>
<circle cx="573.5" cy="108.2" r="1.35" fill="#636363"/>
<circle cx="577.7" cy="74.9" r="1.35" fill="#636363"/>
<circle cx="577.7" cy="83.2" r="1.35" fill="#636363"/>
<circle cx="577.7" cy="113.6" r="1.35" fill="#636363"/>
<circle cx="581.9" cy="71.9" r="1.35" fill="#636363"/>
<circle cx="581.9" cy="84.3" r="1.35" fill="#636363"/>
<circle cx="581.9" cy="92.8" r="1.35" fill="#636363"/>
<path d="M609.2 75V79M608 75h2.4M608 79h2.4" stroke="#0b2f9c" stroke-width="1.3" fill="none"/>
<rect x="606.7" y="74.4" width="5" height="5" fill="#0b2f9c"/>
<rect x="607.9" y="75.6" width="2.6" height="2.6" fill="#e6ebf7"/>
<circle cx="609.2" cy="77.1" r="0.75" fill="#7d8296"/>
<path d="M617.4 72.4V79.5M616.2 72.4h2.4M616.2 79.5h2.4" stroke="#9ccdfc" stroke-width="1.3" fill="none"/>
<rect x="615.1" y="73.6" width="4.6" height="4.6" fill="#9ccdfc"/>
<circle cx="617.4" cy="68.2" r="1.35" fill="#636363"/>
<circle cx="617.4" cy="79.8" r="1.35" fill="#636363"/>
<path d="M637.05 73V77M635.85 73h2.4M635.85 77h2.4" stroke="#0b2f9c" stroke-width="1.3" fill="none"/>
<rect x="634.75" y="72.7" width="4.6" height="4.6" fill="#0b2f9c"/>
<circle cx="637.05" cy="75" r="1.05" fill="#a3aac0"/>
<path d="M645.25 73V81.2M644.05 73h2.4M644.05 81.2h2.4" stroke="#9ccdfc" stroke-width="1.3" fill="none"/>
<rect x="642.95" y="74.6" width="4.6" height="4.6" fill="#9ccdfc"/>
<circle cx="637.05" cy="70.1" r="1.35" fill="#636363"/>
<circle cx="637.05" cy="78.8" r="1.35" fill="#636363"/>
<circle cx="645.25" cy="69.6" r="1.35" fill="#636363"/>
<circle cx="645.25" cy="75.9" r="1.35" fill="#636363"/>
<circle cx="645.25" cy="83.1" r="1.35" fill="#636363"/>
<path d="M664.9 80.5V87.5M663.7 80.5h2.4M663.7 87.5h2.4" stroke="#0b2f9c" stroke-width="1.3" fill="none"/>
<rect x="662.4" y="81.5" width="5" height="5" fill="#0b2f9c"/>
<rect x="663.6" y="82.7" width="2.6" height="2.6" fill="#e6ebf7"/>
<circle cx="664.9" cy="84.2" r="0.75" fill="#7d8296"/>
<path d="M673.1 80V87M671.9 80h2.4M671.9 87h2.4" stroke="#9ccdfc" stroke-width="1.3" fill="none"/>
<rect x="670.8" y="81.5" width="4.6" height="4.6" fill="#9ccdfc"/>
<circle cx="664.9" cy="77.2" r="1.35" fill="#636363"/>
<circle cx="664.9" cy="91.2" r="1.35" fill="#636363"/>
<circle cx="673.1" cy="79.6" r="1.35" fill="#636363"/>
<circle cx="673.1" cy="83.8" r="1.35" fill="#636363"/>
<circle cx="673.1" cy="87.6" r="1.35" fill="#636363"/>
<path d="M54 171.4V219.5M52.8 171.4h2.4M52.8 219.5h2.4" stroke="#0b2f9c" stroke-width="1.3" fill="none"/>
<rect x="51.7" y="193.2" width="4.6" height="4.6" fill="#0b2f9c"/>
<path d="M58.2 223.1V251.1M57 223.1h2.4M57 251.1h2.4" stroke="#9ccdfc" stroke-width="1.3" fill="none"/>
<rect x="55.9" y="235" width="4.6" height="4.6" fill="#9ccdfc"/>
<path d="M62.4 223.8V235.3M61.2 223.8h2.4M61.2 235.3h2.4" stroke="#2f9436" stroke-width="1.3" fill="none"/>
<rect x="60.1" y="226.9" width="4.6" height="4.6" fill="#2f9436"/>
<path d="M66.6 225.1V236.6M65.4 225.1h2.4M65.4 236.6h2.4" stroke="#d2fb06" stroke-width="1.3" fill="none"/>
<rect x="64.3" y="228.7" width="4.6" height="4.6" fill="#d2fb06"/>
<circle cx="54" cy="154.7" r="1.35" fill="#636363"/>
<circle cx="54" cy="198.5" r="1.35" fill="#636363"/>
<circle cx="54" cy="235" r="1.35" fill="#636363"/>
<circle cx="58.2" cy="211" r="1.35" fill="#636363"/>
<circle cx="58.2" cy="242.7" r="1.35" fill="#636363"/>
<circle cx="58.2" cy="258.1" r="1.35" fill="#636363"/>
<circle cx="62.4" cy="218.4" r="1.35" fill="#636363"/>
<circle cx="62.4" cy="234.6" r="1.35" fill="#636363"/>
<circle cx="66.6" cy="220.4" r="1.35" fill="#636363"/>
<circle cx="66.6" cy="235" r="1.35" fill="#636363"/>
<circle cx="66.6" cy="238.6" r="1.35" fill="#636363"/>
<path d="M81.7 251.1V260.5M80.5 251.1h2.4M80.5 260.5h2.4" stroke="#0b2f9c" stroke-width="1.3" fill="none"/>
<rect x="79.4" y="254.2" width="4.6" height="4.6" fill="#0b2f9c"/>
<path d="M85.9 192.4V212.7M84.7 192.4h2.4M84.7 212.7h2.4" stroke="#9ccdfc" stroke-width="1.3" fill="none"/>
<rect x="83.6" y="200" width="4.6" height="4.6" fill="#9ccdfc"/>
<path d="M90.1 216.5V240.4M88.9 216.5h2.4M88.9 240.4h2.4" stroke="#2f9436" stroke-width="1.3" fill="none"/>
<rect x="87.8" y="226.2" width="4.6" height="4.6" fill="#2f9436"/>
<path d="M94.3 194.2V225.3M93.1 194.2h2.4M93.1 225.3h2.4" stroke="#d2fb06" stroke-width="1.3" fill="none"/>
<rect x="92" y="207.3" width="4.6" height="4.6" fill="#d2fb06"/>
<circle cx="81.7" cy="251.1" r="1.35" fill="#636363"/>
<circle cx="81.7" cy="263.9" r="1.35" fill="#636363"/>
<circle cx="85.9" cy="185.5" r="1.35" fill="#636363"/>
<circle cx="85.9" cy="202.3" r="1.35" fill="#636363"/>
<circle cx="85.9" cy="218.8" r="1.35" fill="#636363"/>
<circle cx="90.1" cy="206.4" r="1.35" fill="#636363"/>
<circle cx="90.1" cy="231" r="1.35" fill="#636363"/>
<circle cx="90.1" cy="247.4" r="1.35" fill="#636363"/>
<circle cx="94.3" cy="189" r="1.35" fill="#636363"/>
<circle cx="94.3" cy="200.5" r="1.35" fill="#636363"/>
<circle cx="94.3" cy="239.1" r="1.35" fill="#636363"/>
<path d="M109.4 235.3V247.4M108.2 235.3h2.4M108.2 247.4h2.4" stroke="#0b2f9c" stroke-width="1.3" fill="none"/>
<rect x="107.1" y="239.1" width="4.6" height="4.6" fill="#0b2f9c"/>
<circle cx="109.4" cy="241.4" r="1.05" fill="#a3aac0"/>
<path d="M113.6 208V219.5M112.4 208h2.4M112.4 219.5h2.4" stroke="#9ccdfc" stroke-width="1.3" fill="none"/>
<rect x="111.3" y="211.8" width="4.6" height="4.6" fill="#9ccdfc"/>
<path d="M117.8 221.1V246.8M116.6 221.1h2.4M116.6 246.8h2.4" stroke="#2f9436" stroke-width="1.3" fill="none"/>
<rect x="115.5" y="231.6" width="4.6" height="4.6" fill="#2f9436"/>
<path d="M122 232.3V255.3M120.8 232.3h2.4M120.8 255.3h2.4" stroke="#d2fb06" stroke-width="1.3" fill="none"/>
<rect x="119.7" y="241.8" width="4.6" height="4.6" fill="#d2fb06"/>
<circle cx="109.4" cy="231.9" r="1.35" fill="#636363"/>
<circle cx="109.4" cy="252.8" r="1.35" fill="#636363"/>
<circle cx="113.6" cy="206" r="1.35" fill="#636363"/>
<circle cx="113.6" cy="211.4" r="1.35" fill="#636363"/>
<circle cx="113.6" cy="224.8" r="1.35" fill="#636363"/>
<circle cx="117.8" cy="210" r="1.35" fill="#636363"/>
<circle cx="117.8" cy="240.7" r="1.35" fill="#636363"/>
<circle cx="117.8" cy="251.2" r="1.35" fill="#636363"/>
<circle cx="122" cy="222.1" r="1.35" fill="#636363"/>
<circle cx="122" cy="251.3" r="1.35" fill="#636363"/>
<circle cx="122" cy="258.8" r="1.35" fill="#636363"/>
<path d="M145.7 235.4V245.8M144.5 235.4h2.4M144.5 245.8h2.4" stroke="#0b2f9c" stroke-width="1.3" fill="none"/>
<rect x="143.4" y="238.5" width="4.6" height="4.6" fill="#0b2f9c"/>
<path d="M149.9 255V261.5M148.7 255h2.4M148.7 261.5h2.4" stroke="#9ccdfc" stroke-width="1.3" fill="none"/>
<rect x="147.6" y="255.9" width="4.6" height="4.6" fill="#9ccdfc"/>
<path d="M154.1 239V249.2M152.9 239h2.4M152.9 249.2h2.4" stroke="#2f9436" stroke-width="1.3" fill="none"/>
<rect x="151.8" y="241.5" width="4.6" height="4.6" fill="#2f9436"/>
<path d="M158.3 236.8V249.2M157.1 236.8h2.4M157.1 249.2h2.4" stroke="#d2fb06" stroke-width="1.3" fill="none"/>
<rect x="156" y="241.3" width="4.6" height="4.6" fill="#d2fb06"/>
<circle cx="145.7" cy="229.6" r="1.35" fill="#636363"/>
<circle cx="145.7" cy="245.1" r="1.35" fill="#636363"/>
<circle cx="149.9" cy="253.2" r="1.35" fill="#636363"/>
<circle cx="149.9" cy="260" r="1.35" fill="#636363"/>
<circle cx="154.1" cy="237.2" r="1.35" fill="#636363"/>
<circle cx="154.1" cy="255.3" r="1.35" fill="#636363"/>
<circle cx="158.3" cy="237.1" r="1.35" fill="#636363"/>
<circle cx="158.3" cy="249.6" r="1.35" fill="#636363"/>
<path d="M173.4 251.5V256M172.2 251.5h2.4M172.2 256h2.4" stroke="#0b2f9c" stroke-width="1.3" fill="none"/>
<rect x="170.9" y="251.4" width="5" height="5" fill="#0b2f9c"/>
<rect x="172.1" y="252.6" width="2.6" height="2.6" fill="#e6ebf7"/>
<circle cx="173.4" cy="254.1" r="0.75" fill="#7d8296"/>
<path d="M177.6 243.8V251.2M176.4 243.8h2.4M176.4 251.2h2.4" stroke="#9ccdfc" stroke-width="1.3" fill="none"/>
<rect x="175.3" y="245.5" width="4.6" height="4.6" fill="#9ccdfc"/>
<path d="M181.8 248.5V255.3M180.6 248.5h2.4M180.6 255.3h2.4" stroke="#2f9436" stroke-width="1.3" fill="none"/>
<rect x="179.5" y="249.6" width="4.6" height="4.6" fill="#2f9436"/>
<path d="M186 234.7V247.8M184.8 234.7h2.4M184.8 247.8h2.4" stroke="#d2fb06" stroke-width="1.3" fill="none"/>
<rect x="183.7" y="238.8" width="4.6" height="4.6" fill="#d2fb06"/>
<circle cx="177.6" cy="239.8" r="1.35" fill="#636363"/>
<circle cx="177.6" cy="249.6" r="1.35" fill="#636363"/>
<circle cx="181.8" cy="245.2" r="1.35" fill="#636363"/>
<circle cx="181.8" cy="257.7" r="1.35" fill="#636363"/>
<circle cx="186" cy="228.6" r="1.35" fill="#636363"/>
<circle cx="186" cy="245.1" r="1.35" fill="#636363"/>
<circle cx="186" cy="248.5" r="1.35" fill="#636363"/>
<path d="M201.1 251.5V256M199.9 251.5h2.4M199.9 256h2.4" stroke="#0b2f9c" stroke-width="1.3" fill="none"/>
<rect x="198.6" y="251.4" width="5" height="5" fill="#0b2f9c"/>
<rect x="199.8" y="252.6" width="2.6" height="2.6" fill="#e6ebf7"/>
<circle cx="201.1" cy="254.1" r="0.75" fill="#7d8296"/>
<path d="M205.3 239V250.5M204.1 239h2.4M204.1 250.5h2.4" stroke="#9ccdfc" stroke-width="1.3" fill="none"/>
<rect x="203" y="242.8" width="4.6" height="4.6" fill="#9ccdfc"/>
<path d="M209.5 235.2V244.4M208.3 235.2h2.4M208.3 244.4h2.4" stroke="#2f9436" stroke-width="1.3" fill="none"/>
<rect x="207.2" y="237.9" width="4.6" height="4.6" fill="#2f9436"/>
<path d="M213.7 236.5V247.8M212.5 236.5h2.4M212.5 247.8h2.4" stroke="#d2fb06" stroke-width="1.3" fill="none"/>
<rect x="211.4" y="239.7" width="4.6" height="4.6" fill="#d2fb06"/>
<circle cx="205.3" cy="237.1" r="1.35" fill="#636363"/>
<circle cx="205.3" cy="242.4" r="1.35" fill="#636363"/>
<circle cx="205.3" cy="255.3" r="1.35" fill="#636363"/>
<circle cx="209.5" cy="233.4" r="1.35" fill="#636363"/>
<circle cx="209.5" cy="248.2" r="1.35" fill="#636363"/>
<circle cx="213.7" cy="231.4" r="1.35" fill="#636363"/>
<circle cx="213.7" cy="245.1" r="1.35" fill="#636363"/>
<circle cx="213.7" cy="249.6" r="1.35" fill="#636363"/>
<path d="M237.9 240V246.4M236.7 240h2.4M236.7 246.4h2.4" stroke="#0b2f9c" stroke-width="1.3" fill="none"/>
<rect x="235.6" y="240.8" width="4.6" height="4.6" fill="#0b2f9c"/>
<path d="M242.1 248V254.5M240.9 248h2.4M240.9 254.5h2.4" stroke="#9ccdfc" stroke-width="1.3" fill="none"/>
<rect x="239.8" y="249" width="4.6" height="4.6" fill="#9ccdfc"/>
<path d="M246.3 243.4V250.4M245.1 243.4h2.4M245.1 250.4h2.4" stroke="#2f9436" stroke-width="1.3" fill="none"/>
<rect x="244" y="244.5" width="4.6" height="4.6" fill="#2f9436"/>
<path d="M250.5 235.3V244.1M249.3 235.3h2.4M249.3 244.1h2.4" stroke="#d2fb06" stroke-width="1.3" fill="none"/>
<rect x="248.2" y="237.7" width="4.6" height="4.6" fill="#d2fb06"/>
<circle cx="237.9" cy="238.2" r="1.35" fill="#636363"/>
<circle cx="237.9" cy="248.8" r="1.35" fill="#636363"/>
<circle cx="242.1" cy="244.5" r="1.35" fill="#636363"/>
<circle cx="242.1" cy="255.8" r="1.35" fill="#636363"/>
<circle cx="246.3" cy="242.3" r="1.35" fill="#636363"/>
<circle cx="246.3" cy="251.5" r="1.35" fill="#636363"/>
<circle cx="250.5" cy="233.2" r="1.35" fill="#636363"/>
<circle cx="250.5" cy="238" r="1.35" fill="#636363"/>
<circle cx="250.5" cy="247.2" r="1.35" fill="#636363"/>
<path d="M265.6 251V254.6M264.4 251h2.4M264.4 254.6h2.4" stroke="#0b2f9c" stroke-width="1.3" fill="none"/>
<rect x="263.1" y="250.3" width="5" height="5" fill="#0b2f9c"/>
<rect x="264.3" y="251.5" width="2.6" height="2.6" fill="#e6ebf7"/>
<circle cx="265.6" cy="253" r="0.75" fill="#7d8296"/>
<path d="M269.8 239V241.8M268.6 239h2.4M268.6 241.8h2.4" stroke="#9ccdfc" stroke-width="1.3" fill="none"/>
<rect x="267.5" y="238.1" width="4.6" height="4.6" fill="#9ccdfc"/>
<path d="M274 252V258M272.8 252h2.4M272.8 258h2.4" stroke="#2f9436" stroke-width="1.3" fill="none"/>
<rect x="271.7" y="252.7" width="4.6" height="4.6" fill="#2f9436"/>
<path d="M278.2 231.9V238.6M277 231.9h2.4M277 238.6h2.4" stroke="#d2fb06" stroke-width="1.3" fill="none"/>
<rect x="275.9" y="232.3" width="4.6" height="4.6" fill="#d2fb06"/>
<circle cx="265.6" cy="249" r="1.35" fill="#636363"/>
<circle cx="269.8" cy="240.4" r="1.35" fill="#636363"/>
<circle cx="274" cy="249.4" r="1.35" fill="#636363"/>
<circle cx="274" cy="258.6" r="1.35" fill="#636363"/>
<circle cx="278.2" cy="230.1" r="1.35" fill="#636363"/>
<circle cx="278.2" cy="241.8" r="1.35" fill="#636363"/>
<path d="M293.3 249V252.6M292.1 249h2.4M292.1 252.6h2.4" stroke="#0b2f9c" stroke-width="1.3" fill="none"/>
<rect x="290.8" y="248.3" width="5" height="5" fill="#0b2f9c"/>
<rect x="292" y="249.5" width="2.6" height="2.6" fill="#e6ebf7"/>
<circle cx="293.3" cy="251" r="0.75" fill="#7d8296"/>
<path d="M297.5 236.4V250.1M296.3 236.4h2.4M296.3 250.1h2.4" stroke="#9ccdfc" stroke-width="1.3" fill="none"/>
<rect x="295.2" y="241.8" width="4.6" height="4.6" fill="#9ccdfc"/>
<path d="M301.7 232.3V245.4M300.5 232.3h2.4M300.5 245.4h2.4" stroke="#2f9436" stroke-width="1.3" fill="none"/>
<rect x="299.4" y="237" width="4.6" height="4.6" fill="#2f9436"/>
<path d="M305.9 235.3V249.5M304.7 235.3h2.4M304.7 249.5h2.4" stroke="#d2fb06" stroke-width="1.3" fill="none"/>
<rect x="303.6" y="239.7" width="4.6" height="4.6" fill="#d2fb06"/>
<circle cx="293.3" cy="245.4" r="1.35" fill="#636363"/>
<circle cx="293.3" cy="254.3" r="1.35" fill="#636363"/>
<circle cx="297.5" cy="228.8" r="1.35" fill="#636363"/>
<circle cx="297.5" cy="250.9" r="1.35" fill="#636363"/>
<circle cx="301.7" cy="228.8" r="1.35" fill="#636363"/>
<circle cx="301.7" cy="236.6" r="1.35" fill="#636363"/>
<circle cx="301.7" cy="250.2" r="1.35" fill="#636363"/>
<circle cx="305.9" cy="231.9" r="1.35" fill="#636363"/>
<circle cx="305.9" cy="239.3" r="1.35" fill="#636363"/>
<circle cx="305.9" cy="254.3" r="1.35" fill="#636363"/>
<path d="M330.1 254.2V261.6M328.9 254.2h2.4M328.9 261.6h2.4" stroke="#0b2f9c" stroke-width="1.3" fill="none"/>
<rect x="327.8" y="255.3" width="4.6" height="4.6" fill="#0b2f9c"/>
<path d="M334.3 250.5V259M333.1 250.5h2.4M333.1 259h2.4" stroke="#9ccdfc" stroke-width="1.3" fill="none"/>
<rect x="332" y="252.3" width="4.6" height="4.6" fill="#9ccdfc"/>
<path d="M338.5 206.4V230.5M337.3 206.4h2.4M337.3 230.5h2.4" stroke="#2f9436" stroke-width="1.3" fill="none"/>
<rect x="336.2" y="216.1" width="4.6" height="4.6" fill="#2f9436"/>
<path d="M342.7 194.5V204M341.5 194.5h2.4M341.5 204h2.4" stroke="#d2fb06" stroke-width="1.3" fill="none"/>
<rect x="340.4" y="196.9" width="4.6" height="4.6" fill="#d2fb06"/>
<circle cx="330.1" cy="251.5" r="1.35" fill="#636363"/>
<circle cx="330.1" cy="261" r="1.35" fill="#636363"/>
<circle cx="334.3" cy="248.1" r="1.35" fill="#636363"/>
<circle cx="334.3" cy="253.5" r="1.35" fill="#636363"/>
<circle cx="334.3" cy="262.7" r="1.35" fill="#636363"/>
<circle cx="338.5" cy="203.6" r="1.35" fill="#636363"/>
<circle cx="338.5" cy="209" r="1.35" fill="#636363"/>
<circle cx="338.5" cy="242" r="1.35" fill="#636363"/>
<circle cx="342.7" cy="189.1" r="1.35" fill="#636363"/>
<circle cx="342.7" cy="204.6" r="1.35" fill="#636363"/>
<path d="M357.8 261.6V268.4M356.6 261.6h2.4M356.6 268.4h2.4" stroke="#0b2f9c" stroke-width="1.3" fill="none"/>
<rect x="355.5" y="262.7" width="4.6" height="4.6" fill="#0b2f9c"/>
<path d="M362 258V264.5M360.8 258h2.4M360.8 264.5h2.4" stroke="#9ccdfc" stroke-width="1.3" fill="none"/>
<rect x="359.7" y="259.1" width="4.6" height="4.6" fill="#9ccdfc"/>
<path d="M366.2 225.5V239.6M365 225.5h2.4M365 239.6h2.4" stroke="#2f9436" stroke-width="1.3" fill="none"/>
<rect x="363.9" y="230.3" width="4.6" height="4.6" fill="#2f9436"/>
<path d="M370.4 223.4V233.9M369.2 223.4h2.4M369.2 233.9h2.4" stroke="#d2fb06" stroke-width="1.3" fill="none"/>
<rect x="368.1" y="226.2" width="4.6" height="4.6" fill="#d2fb06"/>
<circle cx="357.8" cy="258.9" r="1.35" fill="#636363"/>
<circle cx="357.8" cy="267.7" r="1.35" fill="#636363"/>
<circle cx="362" cy="256.6" r="1.35" fill="#636363"/>
<circle cx="362" cy="267.7" r="1.35" fill="#636363"/>
<circle cx="366.2" cy="225.3" r="1.35" fill="#636363"/>
<circle cx="366.2" cy="245.8" r="1.35" fill="#636363"/>
<circle cx="370.4" cy="220.2" r="1.35" fill="#636363"/>
<circle cx="370.4" cy="227.4" r="1.35" fill="#636363"/>
<circle cx="370.4" cy="237.7" r="1.35" fill="#636363"/>
<path d="M385.5 263V271.8M384.3 263h2.4M384.3 271.8h2.4" stroke="#0b2f9c" stroke-width="1.3" fill="none"/>
<rect x="383.2" y="265.8" width="4.6" height="4.6" fill="#0b2f9c"/>
<path d="M389.7 265V271M388.5 265h2.4M388.5 271h2.4" stroke="#9ccdfc" stroke-width="1.3" fill="none"/>
<rect x="387.4" y="265.8" width="4.6" height="4.6" fill="#9ccdfc"/>
<path d="M393.9 233.2V246.8M392.7 233.2h2.4M392.7 246.8h2.4" stroke="#2f9436" stroke-width="1.3" fill="none"/>
<rect x="391.6" y="237.7" width="4.6" height="4.6" fill="#2f9436"/>
<path d="M398.1 225.8V235.3M396.9 225.8h2.4M396.9 235.3h2.4" stroke="#d2fb06" stroke-width="1.3" fill="none"/>
<rect x="395.8" y="227.8" width="4.6" height="4.6" fill="#d2fb06"/>
<circle cx="385.5" cy="263.2" r="1.35" fill="#636363"/>
<circle cx="385.5" cy="273.5" r="1.35" fill="#636363"/>
<circle cx="389.7" cy="265" r="1.35" fill="#636363"/>
<circle cx="393.9" cy="230.5" r="1.35" fill="#636363"/>
<circle cx="393.9" cy="235" r="1.35" fill="#636363"/>
<circle cx="393.9" cy="252.8" r="1.35" fill="#636363"/>
<circle cx="398.1" cy="221.5" r="1.35" fill="#636363"/>
<circle cx="398.1" cy="235" r="1.35" fill="#636363"/>
<path d="M422.3 245.4V253.5M421.1 245.4h2.4M421.1 253.5h2.4" stroke="#0b2f9c" stroke-width="1.3" fill="none"/>
<rect x="420" y="246.9" width="4.6" height="4.6" fill="#0b2f9c"/>
<path d="M426.5 239V251.5M425.3 239h2.4M425.3 251.5h2.4" stroke="#9ccdfc" stroke-width="1.3" fill="none"/>
<rect x="424.2" y="242" width="4.6" height="4.6" fill="#9ccdfc"/>
<path d="M430.7 224.2V231M429.5 224.2h2.4M429.5 231h2.4" stroke="#2f9436" stroke-width="1.3" fill="none"/>
<rect x="428.4" y="225" width="4.6" height="4.6" fill="#2f9436"/>
<path d="M434.9 231V236.3M433.7 231h2.4M433.7 236.3h2.4" stroke="#d2fb06" stroke-width="1.3" fill="none"/>
<rect x="432.6" y="231.3" width="4.6" height="4.6" fill="#d2fb06"/>
<circle cx="422.3" cy="242.3" r="1.35" fill="#636363"/>
<circle cx="422.3" cy="253.5" r="1.35" fill="#636363"/>
<circle cx="426.5" cy="237.7" r="1.35" fill="#636363"/>
<circle cx="426.5" cy="257.6" r="1.35" fill="#636363"/>
<circle cx="430.7" cy="221.9" r="1.35" fill="#636363"/>
<circle cx="430.7" cy="231.4" r="1.35" fill="#636363"/>
<circle cx="434.9" cy="231.4" r="1.35" fill="#636363"/>
<circle cx="434.9" cy="236.8" r="1.35" fill="#636363"/>
<path d="M450 267V272M448.8 267h2.4M448.8 272h2.4" stroke="#0b2f9c" stroke-width="1.3" fill="none"/>
<rect x="447.7" y="267.2" width="4.6" height="4.6" fill="#0b2f9c"/>
<path d="M454.2 261V269.7M453 261h2.4M453 269.7h2.4" stroke="#9ccdfc" stroke-width="1.3" fill="none"/>
<rect x="451.9" y="263.4" width="4.6" height="4.6" fill="#9ccdfc"/>
<path d="M458.4 223.2V239.7M457.2 223.2h2.4M457.2 239.7h2.4" stroke="#2f9436" stroke-width="1.3" fill="none"/>
<rect x="456.1" y="229.1" width="4.6" height="4.6" fill="#2f9436"/>
<path d="M462.6 240.4V254.2M461.4 240.4h2.4M461.4 254.2h2.4" stroke="#d2fb06" stroke-width="1.3" fill="none"/>
<rect x="460.3" y="245" width="4.6" height="4.6" fill="#d2fb06"/>
<circle cx="450" cy="272.4" r="1.35" fill="#636363"/>
<circle cx="454.2" cy="257.6" r="1.35" fill="#636363"/>
<circle cx="454.2" cy="268.4" r="1.35" fill="#636363"/>
<circle cx="454.2" cy="272.2" r="1.35" fill="#636363"/>
<circle cx="458.4" cy="219.5" r="1.35" fill="#636363"/>
<circle cx="458.4" cy="228.2" r="1.35" fill="#636363"/>
<circle cx="458.4" cy="246.6" r="1.35" fill="#636363"/>
<circle cx="462.6" cy="237" r="1.35" fill="#636363"/>
<circle cx="462.6" cy="244.5" r="1.35" fill="#636363"/>
<circle cx="462.6" cy="260.5" r="1.35" fill="#636363"/>
<path d="M477.7 264V267.5M476.5 264h2.4M476.5 267.5h2.4" stroke="#0b2f9c" stroke-width="1.3" fill="none"/>
<rect x="475.2" y="263.2" width="5" height="5" fill="#0b2f9c"/>
<rect x="476.4" y="264.4" width="2.6" height="2.6" fill="#e6ebf7"/>
<circle cx="477.7" cy="265.9" r="0.75" fill="#7d8296"/>
<path d="M481.9 265.5V271M480.7 265.5h2.4M480.7 271h2.4" stroke="#9ccdfc" stroke-width="1.3" fill="none"/>
<rect x="479.6" y="265.8" width="4.6" height="4.6" fill="#9ccdfc"/>
<path d="M486.1 236.4V246.2M484.9 236.4h2.4M484.9 246.2h2.4" stroke="#2f9436" stroke-width="1.3" fill="none"/>
<rect x="483.8" y="238.8" width="4.6" height="4.6" fill="#2f9436"/>
<path d="M490.3 227.3V237.7M489.1 227.3h2.4M489.1 237.7h2.4" stroke="#d2fb06" stroke-width="1.3" fill="none"/>
<rect x="488" y="230" width="4.6" height="4.6" fill="#d2fb06"/>
<circle cx="481.9" cy="265" r="1.35" fill="#636363"/>
<circle cx="481.9" cy="272.2" r="1.35" fill="#636363"/>
<circle cx="486.1" cy="232.3" r="1.35" fill="#636363"/>
<circle cx="486.1" cy="247.6" r="1.35" fill="#636363"/>
<circle cx="490.3" cy="224.2" r="1.35" fill="#636363"/>
<circle cx="490.3" cy="231.6" r="1.35" fill="#636363"/>
<circle cx="490.3" cy="241.4" r="1.35" fill="#636363"/>
<path d="M513.9 250.3V256.4M512.7 250.3h2.4M512.7 256.4h2.4" stroke="#0b2f9c" stroke-width="1.3" fill="none"/>
<rect x="511.4" y="250.7" width="5" height="5" fill="#0b2f9c"/>
<rect x="512.6" y="251.9" width="2.6" height="2.6" fill="#e6ebf7"/>
<circle cx="513.9" cy="253.4" r="0.75" fill="#7d8296"/>
<path d="M518.1 251.5V257M516.9 251.5h2.4M516.9 257h2.4" stroke="#9ccdfc" stroke-width="1.3" fill="none"/>
<rect x="515.8" y="252" width="4.6" height="4.6" fill="#9ccdfc"/>
<path d="M522.3 245.5V251.5M521.1 245.5h2.4M521.1 251.5h2.4" stroke="#2f9436" stroke-width="1.3" fill="none"/>
<rect x="520" y="246.3" width="4.6" height="4.6" fill="#2f9436"/>
<path d="M526.5 260.5V266.5M525.3 260.5h2.4M525.3 266.5h2.4" stroke="#d2fb06" stroke-width="1.3" fill="none"/>
<rect x="524.2" y="261.2" width="4.6" height="4.6" fill="#d2fb06"/>
<circle cx="513.9" cy="247.8" r="1.35" fill="#636363"/>
<circle cx="513.9" cy="259.1" r="1.35" fill="#636363"/>
<circle cx="518.1" cy="250.3" r="1.35" fill="#636363"/>
<circle cx="518.1" cy="256.8" r="1.35" fill="#636363"/>
<circle cx="522.3" cy="244.9" r="1.35" fill="#636363"/>
<circle cx="522.3" cy="246.6" r="1.35" fill="#636363"/>
<circle cx="522.3" cy="253.2" r="1.35" fill="#636363"/>
<circle cx="526.5" cy="260" r="1.35" fill="#636363"/>
<circle cx="526.5" cy="263.2" r="1.35" fill="#636363"/>
<circle cx="526.5" cy="267.6" r="1.35" fill="#636363"/>
<path d="M541.6 256.4V266.5M540.4 256.4h2.4M540.4 266.5h2.4" stroke="#0b2f9c" stroke-width="1.3" fill="none"/>
<rect x="539.1" y="259.3" width="5" height="5" fill="#0b2f9c"/>
<rect x="540.3" y="260.5" width="2.6" height="2.6" fill="#e6ebf7"/>
<circle cx="541.6" cy="262" r="0.75" fill="#7d8296"/>
<path d="M545.8 252.3V262.4M544.6 252.3h2.4M544.6 262.4h2.4" stroke="#9ccdfc" stroke-width="1.3" fill="none"/>
<rect x="543.5" y="255.4" width="4.6" height="4.6" fill="#9ccdfc"/>
<path d="M550 262V267M548.8 262h2.4M548.8 267h2.4" stroke="#2f9436" stroke-width="1.3" fill="none"/>
<rect x="547.7" y="262.2" width="4.6" height="4.6" fill="#2f9436"/>
<path d="M554.2 255V263.8M553 255h2.4M553 263.8h2.4" stroke="#d2fb06" stroke-width="1.3" fill="none"/>
<rect x="551.9" y="257.2" width="4.6" height="4.6" fill="#d2fb06"/>
<circle cx="541.6" cy="252.3" r="1.35" fill="#636363"/>
<circle cx="541.6" cy="270.3" r="1.35" fill="#636363"/>
<circle cx="545.8" cy="247.6" r="1.35" fill="#636363"/>
<circle cx="545.8" cy="262.7" r="1.35" fill="#636363"/>
<circle cx="550" cy="262.5" r="1.35" fill="#636363"/>
<circle cx="550" cy="264.8" r="1.35" fill="#636363"/>
<circle cx="554.2" cy="252.3" r="1.35" fill="#636363"/>
<circle cx="554.2" cy="263.8" r="1.35" fill="#636363"/>
<path d="M569.3 265V269.5M568.1 265h2.4M568.1 269.5h2.4" stroke="#0b2f9c" stroke-width="1.3" fill="none"/>
<rect x="566.8" y="264.7" width="5" height="5" fill="#0b2f9c"/>
<rect x="568" y="265.9" width="2.6" height="2.6" fill="#e6ebf7"/>
<circle cx="569.3" cy="267.4" r="0.75" fill="#7d8296"/>
<path d="M573.5 254.1V266.5M572.3 254.1h2.4M572.3 266.5h2.4" stroke="#9ccdfc" stroke-width="1.3" fill="none"/>
<rect x="571.2" y="257.7" width="4.6" height="4.6" fill="#9ccdfc"/>
<path d="M577.7 255V262M576.5 255h2.4M576.5 262h2.4" stroke="#2f9436" stroke-width="1.3" fill="none"/>
<rect x="575.4" y="255.8" width="4.6" height="4.6" fill="#2f9436"/>
<path d="M581.9 260V267.5M580.7 260h2.4M580.7 267.5h2.4" stroke="#d2fb06" stroke-width="1.3" fill="none"/>
<rect x="579.6" y="261.5" width="4.6" height="4.6" fill="#d2fb06"/>
<circle cx="569.3" cy="264.5" r="1.35" fill="#636363"/>
<circle cx="569.3" cy="270.3" r="1.35" fill="#636363"/>
<circle cx="573.5" cy="249.2" r="1.35" fill="#636363"/>
<circle cx="573.5" cy="262.7" r="1.35" fill="#636363"/>
<circle cx="573.5" cy="271.2" r="1.35" fill="#636363"/>
<circle cx="577.7" cy="255" r="1.35" fill="#636363"/>
<circle cx="577.7" cy="257.5" r="1.35" fill="#636363"/>
<circle cx="577.7" cy="263.5" r="1.35" fill="#636363"/>
<circle cx="581.9" cy="259.5" r="1.35" fill="#636363"/>
<circle cx="581.9" cy="263.8" r="1.35" fill="#636363"/>
<circle cx="581.9" cy="269.2" r="1.35" fill="#636363"/>
<path d="M609.2 253.5V259M608 253.5h2.4M608 259h2.4" stroke="#0b2f9c" stroke-width="1.3" fill="none"/>
<rect x="606.9" y="254.1" width="4.6" height="4.6" fill="#0b2f9c"/>
<path d="M617.4 256V262.5M616.2 256h2.4M616.2 262.5h2.4" stroke="#9ccdfc" stroke-width="1.3" fill="none"/>
<rect x="615.1" y="257" width="4.6" height="4.6" fill="#9ccdfc"/>
<circle cx="609.2" cy="252.8" r="1.35" fill="#636363"/>
<circle cx="609.2" cy="259.1" r="1.35" fill="#636363"/>
<circle cx="617.4" cy="256.9" r="1.35" fill="#636363"/>
<circle cx="617.4" cy="259.4" r="1.35" fill="#636363"/>
<circle cx="617.4" cy="262.7" r="1.35" fill="#636363"/>
<path d="M637.05 258V262M635.85 258h2.4M635.85 262h2.4" stroke="#0b2f9c" stroke-width="1.3" fill="none"/>
<rect x="634.55" y="257.5" width="5" height="5" fill="#0b2f9c"/>
<rect x="635.75" y="258.7" width="2.6" height="2.6" fill="#e6ebf7"/>
<circle cx="637.05" cy="260.2" r="0.75" fill="#7d8296"/>
<path d="M645.25 252.5V259.5M644.05 252.5h2.4M644.05 259.5h2.4" stroke="#9ccdfc" stroke-width="1.3" fill="none"/>
<rect x="642.95" y="253.6" width="4.6" height="4.6" fill="#9ccdfc"/>
<circle cx="645.25" cy="252.3" r="1.35" fill="#636363"/>
<circle cx="645.25" cy="255.9" r="1.35" fill="#636363"/>
<circle cx="645.25" cy="259.6" r="1.35" fill="#636363"/>
<path d="M664.9 266V269.5M663.7 266h2.4M663.7 269.5h2.4" stroke="#0b2f9c" stroke-width="1.3" fill="none"/>
<rect x="662.4" y="265.2" width="5" height="5" fill="#0b2f9c"/>
<rect x="663.6" y="266.4" width="2.6" height="2.6" fill="#e6ebf7"/>
<circle cx="664.9" cy="267.9" r="0.75" fill="#7d8296"/>
<path d="M673.1 268.5V274M671.9 268.5h2.4M671.9 274h2.4" stroke="#9ccdfc" stroke-width="1.3" fill="none"/>
<rect x="670.8" y="268.9" width="4.6" height="4.6" fill="#9ccdfc"/>
<circle cx="673.1" cy="268.6" r="1.35" fill="#636363"/>
<circle cx="673.1" cy="271.3" r="1.35" fill="#636363"/>
<circle cx="673.1" cy="274.2" r="1.35" fill="#636363"/>
<path d="M44.6 19.2H56.7" stroke="#0b2f9c" stroke-width="1.8"/>
<rect x="47" y="15.8" width="6.8" height="6.8" fill="#0b2f9c"/>
<text x="57.1" y="21.7" font-size="6.95" fill="#1a1a1a">Normal Male</text>
<path d="M44.6 27.47H56.7" stroke="#9ccdfc" stroke-width="1.8"/>
<rect x="47" y="24.07" width="6.8" height="6.8" fill="#9ccdfc"/>
<text x="57.1" y="29.97" font-size="6.95" fill="#1a1a1a">Isolate Male</text>
<path d="M44.6 35.74H56.7" stroke="#2f9436" stroke-width="1.8"/>
<rect x="47" y="32.34" width="6.8" height="6.8" fill="#2f9436"/>
<text x="57.1" y="38.24" font-size="6.95" fill="#1a1a1a">Normal Female</text>
<path d="M44.6 44.01H56.7" stroke="#d2fb06" stroke-width="1.8"/>
<rect x="47" y="40.61" width="6.8" height="6.8" fill="#d2fb06"/>
<text x="57.1" y="46.51" font-size="6.95" fill="#1a1a1a">Isolate Female</text>
<text x="87.4" y="8.5" font-size="11.4" text-anchor="middle">Field L</text>
<text x="178" y="8.5" font-size="11.4" text-anchor="middle">NCM</text>
<text x="271.2" y="8.5" font-size="11.4" text-anchor="middle">CM</text>
<text x="363.6" y="8.5" font-size="11.4" text-anchor="middle">HVC</text>
<text x="455.6" y="8.5" font-size="11.4" text-anchor="middle">RA</text>
<text x="547.3" y="8.5" font-size="11.4" text-anchor="middle">LMAN</text>
<text x="644.2" y="8.5" font-size="11.4" text-anchor="middle">Area X</text>
<text x="58" y="142.7" font-size="10.4" font-weight="bold" text-anchor="middle">P25</text>
<text x="87.85" y="142.7" font-size="10.4" font-weight="bold" text-anchor="middle">P45</text>
<text x="114.6" y="142.7" font-size="10.4" font-weight="bold" text-anchor="middle">P65</text>
<text x="150.35" y="142.7" font-size="10.4" font-weight="bold" text-anchor="middle">P25</text>
<text x="180.25" y="142.7" font-size="10.4" font-weight="bold" text-anchor="middle">P45</text>
<text x="207.05" y="142.7" font-size="10.4" font-weight="bold" text-anchor="middle">P65</text>
<text x="243.45" y="142.7" font-size="10.4" font-weight="bold" text-anchor="middle">P25</text>
<text x="270.1" y="142.7" font-size="10.4" font-weight="bold" text-anchor="middle">P45</text>
<text x="300.4" y="142.7" font-size="10.4" font-weight="bold" text-anchor="middle">P65</text>
<text x="335.8" y="142.7" font-size="10.4" font-weight="bold" text-anchor="middle">P25</text>
<text x="363" y="142.7" font-size="10.4" font-weight="bold" text-anchor="middle">P45</text>
<text x="392.8" y="142.7" font-size="10.4" font-weight="bold" text-anchor="middle">P65</text>
<text x="428.65" y="142.7" font-size="10.4" font-weight="bold" text-anchor="middle">P25</text>
<text x="455.4" y="142.7" font-size="10.4" font-weight="bold" text-anchor="middle">P45</text>
<text x="483.25" y="142.7" font-size="10.4" font-weight="bold" text-anchor="middle">P65</text>
<text x="518.8" y="142.7" font-size="10.4" font-weight="bold" text-anchor="middle">P25</text>
<text x="545.75" y="142.7" font-size="10.4" font-weight="bold" text-anchor="middle">P45</text>
<text x="575.95" y="142.7" font-size="10.4" font-weight="bold" text-anchor="middle">P65</text>
<text x="614.8" y="142.7" font-size="10.4" font-weight="bold" text-anchor="middle">P25</text>
<text x="641.7" y="142.7" font-size="10.4" font-weight="bold" text-anchor="middle">P45</text>
<text x="668.5" y="142.7" font-size="10.4" font-weight="bold" text-anchor="middle">P65</text>
<text x="360.7" y="153.9" font-size="13.4" font-weight="bold" text-anchor="middle">Age</text>
<text x="58" y="295.8" font-size="10.4" font-weight="bold" text-anchor="middle">P25</text>
<text x="87.85" y="295.8" font-size="10.4" font-weight="bold" text-anchor="middle">P45</text>
<text x="114.6" y="295.8" font-size="10.4" font-weight="bold" text-anchor="middle">P65</text>
<text x="150.35" y="295.8" font-size="10.4" font-weight="bold" text-anchor="middle">P25</text>
<text x="180.25" y="295.8" font-size="10.4" font-weight="bold" text-anchor="middle">P45</text>
<text x="207.05" y="295.8" font-size="10.4" font-weight="bold" text-anchor="middle">P65</text>
<text x="243.45" y="295.8" font-size="10.4" font-weight="bold" text-anchor="middle">P25</text>
<text x="270.1" y="295.8" font-size="10.4" font-weight="bold" text-anchor="middle">P45</text>
<text x="300.4" y="295.8" font-size="10.4" font-weight="bold" text-anchor="middle">P65</text>
<text x="335.8" y="295.8" font-size="10.4" font-weight="bold" text-anchor="middle">P25</text>
<text x="363" y="295.8" font-size="10.4" font-weight="bold" text-anchor="middle">P45</text>
<text x="392.8" y="295.8" font-size="10.4" font-weight="bold" text-anchor="middle">P65</text>
<text x="428.65" y="295.8" font-size="10.4" font-weight="bold" text-anchor="middle">P25</text>
<text x="455.4" y="295.8" font-size="10.4" font-weight="bold" text-anchor="middle">P45</text>
<text x="483.25" y="295.8" font-size="10.4" font-weight="bold" text-anchor="middle">P65</text>
<text x="518.8" y="295.8" font-size="10.4" font-weight="bold" text-anchor="middle">P25</text>
<text x="545.75" y="295.8" font-size="10.4" font-weight="bold" text-anchor="middle">P45</text>
<text x="575.95" y="295.8" font-size="10.4" font-weight="bold" text-anchor="middle">P65</text>
<text x="614.8" y="295.8" font-size="10.4" font-weight="bold" text-anchor="middle">P25</text>
<text x="641.7" y="295.8" font-size="10.4" font-weight="bold" text-anchor="middle">P45</text>
<text x="668.5" y="295.8" font-size="10.4" font-weight="bold" text-anchor="middle">P65</text>
<text x="360.7" y="307" font-size="13.4" font-weight="bold" text-anchor="middle">Age</text>
<text transform="translate(40.9 10.7) scale(0.95 1)" font-size="8.3" font-weight="bold" text-anchor="end">1.5</text>
<text transform="translate(40.9 38.8) scale(0.95 1)" font-size="8.3" font-weight="bold" text-anchor="end">1.2</text>
<text transform="translate(40.9 72.9) scale(0.95 1)" font-size="8.3" font-weight="bold" text-anchor="end">0.9</text>
<text transform="translate(40.9 106.9) scale(0.95 1)" font-size="8.3" font-weight="bold" text-anchor="end">0.6</text>
<text transform="translate(40.9 167.7) scale(0.95 1)" font-size="8.3" font-weight="bold" text-anchor="end">2.5</text>
<text transform="translate(40.9 191.9) scale(0.95 1)" font-size="8.3" font-weight="bold" text-anchor="end">2.0</text>
<text transform="translate(40.9 214.9) scale(0.95 1)" font-size="8.3" font-weight="bold" text-anchor="end">1.5</text>
<text transform="translate(40.9 237.9) scale(0.95 1)" font-size="8.3" font-weight="bold" text-anchor="end">1.0</text>
<text transform="translate(40.9 259.9) scale(0.95 1)" font-size="8.3" font-weight="bold" text-anchor="end">0.5</text>
<text transform="translate(15.4 115) rotate(-90)" font-size="21">GAD65</text>
<text transform="translate(26.3 136.2) rotate(-90)" font-size="11.5" font-weight="bold">Normalized cell density</text>
<text transform="translate(15.9 284.8) rotate(-90)" font-size="21">parvalbumin</text>
<text transform="translate(25.9 296) rotate(-90)" font-size="12.65" font-weight="bold">Normalized cell density</text>
</svg>
</body></html>
